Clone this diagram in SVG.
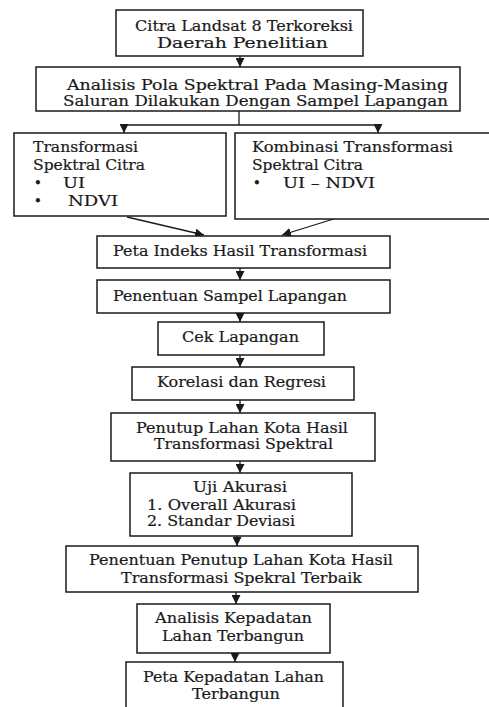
<svg xmlns="http://www.w3.org/2000/svg" width="489" height="707" viewBox="0 0 489 707">
<style>
rect{fill:#fff;stroke:#1a1a1a;stroke-width:1.5}
text{font-family:"DejaVu Serif","Liberation Serif",serif;font-size:14px;fill:#1a1a1a;stroke:#1a1a1a;stroke-width:0.2}
.c{text-anchor:middle}
.ln{stroke:#1a1a1a;stroke-width:1.3;fill:none}
</style>
<defs>
<marker id="ah" markerUnits="userSpaceOnUse" markerWidth="10" markerHeight="9" refX="9" refY="4.5" orient="auto">
<path d="M0,0 L9,4.5 L0,9 Z" fill="#1a1a1a"/>
</marker>
</defs>
<rect x="0" y="0" width="489" height="707" style="fill:#fff;stroke:none"/>
<g id="connectors">
<line class="ln" x1="240" y1="56" x2="240" y2="67" marker-end="url(#ah)"/>
<path class="ln" d="M239,111 V125 M124,125 H378"/>
<line class="ln" x1="124" y1="125" x2="124" y2="133" marker-end="url(#ah)"/>
<line class="ln" x1="378" y1="125" x2="378" y2="133" marker-end="url(#ah)"/>
<line class="ln" x1="127" y1="217" x2="204" y2="235" marker-end="url(#ah)"/>
<line class="ln" x1="340" y1="217" x2="282" y2="235" marker-end="url(#ah)"/>
<line class="ln" x1="240" y1="268" x2="240" y2="280" marker-end="url(#ah)"/>
<line class="ln" x1="240" y1="313" x2="240" y2="322" marker-end="url(#ah)"/>
<line class="ln" x1="240" y1="355" x2="240" y2="367" marker-end="url(#ah)"/>
<line class="ln" x1="240" y1="400" x2="240" y2="413" marker-end="url(#ah)"/>
<line class="ln" x1="240" y1="461" x2="240" y2="473" marker-end="url(#ah)"/>
<line class="ln" x1="237" y1="536" x2="237" y2="546" marker-end="url(#ah)"/>
<line class="ln" x1="236" y1="592" x2="236" y2="604" marker-end="url(#ah)"/>
<line class="ln" x1="235" y1="653" x2="235" y2="662" marker-end="url(#ah)"/>
</g>
<g id="n1">
<rect x="116" y="10" width="247" height="46"/>
<text x="135" y="31" textLength="218" lengthAdjust="spacingAndGlyphs">Citra Landsat 8 Terkoreksi</text>
<text x="157" y="48" textLength="171" lengthAdjust="spacingAndGlyphs">Daerah Penelitian</text>
</g>
<g id="n2">
<rect x="36" y="67" width="424" height="44"/>
<text x="67" y="90" textLength="381" lengthAdjust="spacingAndGlyphs">Analisis Pola Spektral Pada Masing-Masing</text>
<text x="63" y="106" textLength="385" lengthAdjust="spacingAndGlyphs">Saluran Dilakukan Dengan Sampel Lapangan</text>
</g>
<g id="n3">
<rect x="14" y="133" width="212" height="83"/>
<text x="33" y="152" textLength="105" lengthAdjust="spacingAndGlyphs">Transformasi</text>
<text x="33" y="170" textLength="112" lengthAdjust="spacingAndGlyphs">Spektral Citra</text>
<text x="38" y="188" class="c">•</text>
<text x="63" y="188" textLength="22" lengthAdjust="spacingAndGlyphs">UI</text>
<text x="38" y="206" class="c">•</text>
<text x="68" y="206" textLength="50" lengthAdjust="spacingAndGlyphs">NDVI</text>
</g>
<g id="n4">
<rect x="235" y="133" width="260" height="86"/>
<text x="252" y="152" textLength="201" lengthAdjust="spacingAndGlyphs">Kombinasi Transformasi</text>
<text x="252" y="170" textLength="111" lengthAdjust="spacingAndGlyphs">Spektral Citra</text>
<text x="257" y="188" class="c">•</text>
<text x="283" y="188" textLength="92" lengthAdjust="spacingAndGlyphs">UI – NDVI</text>
</g>
<g id="n5">
<rect x="97" y="236" width="293" height="32"/>
<text x="113" y="256" textLength="254" lengthAdjust="spacingAndGlyphs">Peta Indeks Hasil Transformasi</text>
</g>
<g id="n6">
<rect x="97" y="280" width="293" height="33"/>
<text x="113" y="301" textLength="234" lengthAdjust="spacingAndGlyphs">Penentuan Sampel Lapangan</text>
</g>
<g id="n7">
<rect x="158" y="322" width="166" height="33"/>
<text x="182" y="342" textLength="117" lengthAdjust="spacingAndGlyphs">Cek Lapangan</text>
</g>
<g id="n8">
<rect x="132" y="367" width="222" height="33"/>
<text x="157" y="387" textLength="169" lengthAdjust="spacingAndGlyphs">Korelasi dan Regresi</text>
</g>
<g id="n9">
<rect x="111" y="413" width="264" height="48"/>
<text x="136" y="433" textLength="212" lengthAdjust="spacingAndGlyphs">Penutup Lahan Kota Hasil</text>
<text x="154" y="449" textLength="179" lengthAdjust="spacingAndGlyphs">Transformasi Spektral</text>
</g>
<g id="n10">
<rect x="130" y="473" width="222" height="63"/>
<text x="193" y="492" textLength="94" lengthAdjust="spacingAndGlyphs">Uji Akurasi</text>
<text x="147" y="510" textLength="149" lengthAdjust="spacingAndGlyphs">1. Overall Akurasi</text>
<text x="147" y="526" textLength="148" lengthAdjust="spacingAndGlyphs">2. Standar Deviasi</text>
</g>
<g id="n11">
<rect x="66" y="546" width="352" height="46"/>
<text x="89" y="565" textLength="304" lengthAdjust="spacingAndGlyphs">Penentuan Penutup Lahan Kota Hasil</text>
<text x="121" y="583" textLength="241" lengthAdjust="spacingAndGlyphs">Transformasi Spekral Terbaik</text>
</g>
<g id="n12">
<rect x="137" y="604" width="193" height="49"/>
<text x="155" y="623" textLength="157" lengthAdjust="spacingAndGlyphs">Analisis Kepadatan</text>
<text x="162" y="641" textLength="142" lengthAdjust="spacingAndGlyphs">Lahan Terbangun</text>
</g>
<g id="n13">
<rect x="126" y="662" width="217" height="60"/>
<text x="143" y="682" textLength="181" lengthAdjust="spacingAndGlyphs">Peta Kepadatan Lahan</text>
<text x="192" y="699" textLength="88" lengthAdjust="spacingAndGlyphs">Terbangun</text>
</g>
</svg>
